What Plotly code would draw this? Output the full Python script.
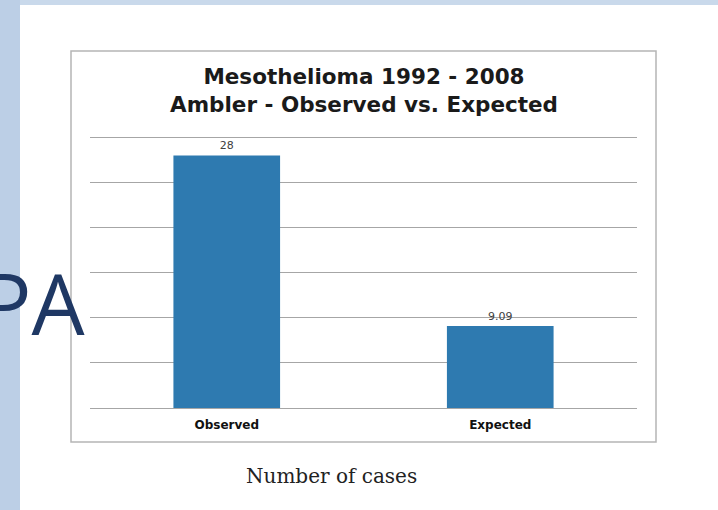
import plotly.graph_objects as go

categories = ["Observed", "Expected"]
values = [28, 9.09]
value_labels = ["28", "9.09"]
y_ticks = [0, 5, 10, 15, 20, 25, 30]

W, H = 718, 510
L, R, T, B = 90, 81, 136, 102
pw = W - L - R
ph = H - T - B

def px(x):
    return (x - L) / pw

def py(y):
    return (H - B - y) / ph

fig = go.Figure()
fig.add_trace(go.Bar(
    x=categories, y=values, text=value_labels, textposition="outside",
    textfont=dict(family="DejaVu Sans, Arial", size=11, color="#404040"),
    marker=dict(color="#2e7ab0", line=dict(width=0)),
    width=0.39, cliponaxis=False,
))

shapes = [
    dict(type="rect", xref="paper", yref="paper", x0=px(0), x1=px(W), y0=py(0), y1=py(5),
         fillcolor="#c9d9eb", line=dict(width=0), layer="below"),
    dict(type="rect", xref="paper", yref="paper", x0=px(0), x1=px(20), y0=py(0), y1=py(H),
         fillcolor="#bccfe6", line=dict(width=0), layer="below"),
    dict(type="rect", xref="paper", yref="paper", x0=px(71), x1=px(656), y0=py(51), y1=py(442),
         fillcolor="rgba(0,0,0,0)", line=dict(color="#b5b5b5", width=1.5), layer="below"),
]

annotations = [
    dict(xref="paper", yref="paper", x=px(364), y=py(91), xanchor="center", yanchor="middle",
         text="<b>Mesothelioma 1992 - 2008<br>Ambler - Observed vs. Expected</b>",
         showarrow=False, font=dict(family="DejaVu Sans, Arial", size=21.5, color="#1a1a1a")),
    dict(xref="paper", yref="paper", x=px(331), y=py(476), xanchor="center", yanchor="middle",
         text="Number of cases", showarrow=False,
         font=dict(family="DejaVu Serif, serif", size=20, color="#222222")),
    dict(xref="paper", yref="paper", x=px(88), y=py(302), xanchor="right", yanchor="middle",
         text="PA", showarrow=False,
         font=dict(family="Open Sans, sans-serif", size=84, color="#1f3864")),
]

fig.update_layout(
    width=W, height=H,
    margin=dict(l=L, r=R, t=T, b=B, pad=0),
    paper_bgcolor="white", plot_bgcolor="white",
    showlegend=False,
    shapes=shapes, annotations=annotations,
    bargap=0.61,
)
fig.update_yaxes(range=[0, 30.15], tickvals=y_ticks, showticklabels=False,
                 showgrid=True, gridcolor="#a6a6a6", gridwidth=1, zeroline=True,
                 zerolinecolor="#a6a6a6", zerolinewidth=1, showline=False, ticks="")
fig.update_xaxes(showgrid=False, showline=False, ticks="", ticklabelstandoff=8,
                 tickfont=dict(family="DejaVu Sans, Arial", size=12, color="#111111"),
                 tickprefix="<b>", ticksuffix="</b>")

fig.write_html("out.html", config={"displayModeBar": False},
               post_script="document.body.style.margin='0';document.body.style.padding='0';")
